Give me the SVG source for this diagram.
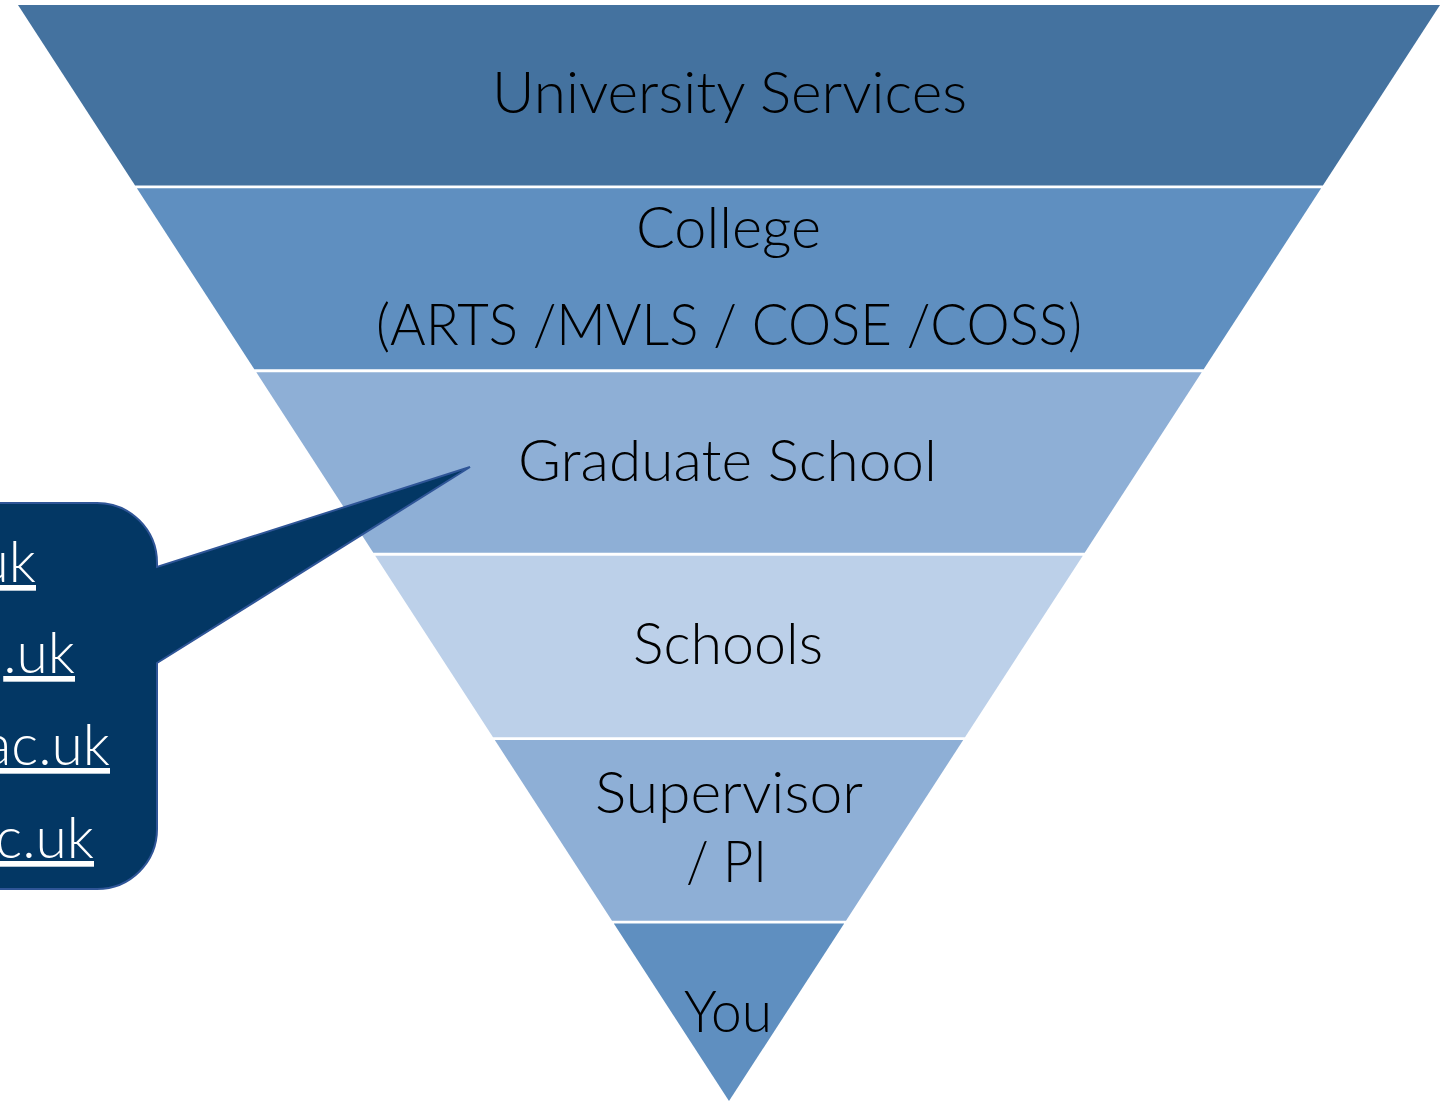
<svg xmlns="http://www.w3.org/2000/svg" width="1448" height="1101" viewBox="0 0 1448 1101">
<style>
.lbl{font-family:Lato,"Open Sans","Liberation Sans",sans-serif;font-weight:300;font-size:57px;fill:#000;text-anchor:middle}
.mail{font-family:Lato,"Open Sans","Liberation Sans",sans-serif;font-weight:300;font-size:57px;fill:#fff;text-anchor:end;text-decoration:underline}
</style>
<rect width="1448" height="1101" fill="#fff"/>
<g id="band-university-services">
<polygon points="18,5 1440,5 1322.9,185.5 135.1,185.5" fill="#44729F"/>
<text class="lbl" x="729.5" y="113" textLength="475" lengthAdjust="spacingAndGlyphs">University Services</text>
</g>
<g id="band-college">
<polygon points="136.9,188.3 1321.1,188.3 1203.7,369.3 254.3,369.3" fill="#5F8FC0"/>
<text class="lbl" x="728.5" y="248" textLength="185" lengthAdjust="spacingAndGlyphs">College</text>
<text class="lbl" x="729" y="345" textLength="706" lengthAdjust="spacingAndGlyphs">(ARTS /MVLS / COSE /COSS)</text>
</g>
<g id="band-graduate-school">
<polygon points="256.3,372.3 1201.7,372.3 1084.7,552.7 373.3,552.7" fill="#8EAFD6"/>
<text class="lbl" x="727.5" y="481" textLength="419" lengthAdjust="spacingAndGlyphs">Graduate School</text>
</g>
<g id="band-schools">
<polygon points="375.2,555.7 1082.8,555.7 965,737.2 493,737.2" fill="#BCD0E9"/>
<text class="lbl" x="728" y="664" textLength="190" lengthAdjust="spacingAndGlyphs">Schools</text>
</g>
<g id="band-supervisor">
<polygon points="494.8,740 963.2,740 846,920.7 612,920.7" fill="#8EAFD6"/>
<text class="lbl" x="729" y="813" textLength="268" lengthAdjust="spacingAndGlyphs">Supervisor</text>
<text class="lbl" x="726.5" y="882" textLength="81" lengthAdjust="spacingAndGlyphs">/ PI</text>
</g>
<g id="band-you">
<polygon points="613.8,923.5 844.2,923.5 729,1101" fill="#5F8FC0"/>
<text class="lbl" x="728" y="1032" textLength="88" lengthAdjust="spacingAndGlyphs">You</text>
</g>
<g id="connectors">
<path d="M -300 503 H 97 A 60 60 0 0 1 157 563 V 567 L 470 467 L 157 663 V 829 A 60 60 0 0 1 97 889 H -300 Z" fill="#033764" stroke="#2F5597" stroke-width="2"/>
</g>
<g id="callout-text">
<text class="mail" x="36" y="582">uk</text>
<text class="mail" x="75" y="673">.uk</text>
<text class="mail" x="110" y="765">ac.uk</text>
<text class="mail" x="94" y="858">c.uk</text>
</g>
</svg>
